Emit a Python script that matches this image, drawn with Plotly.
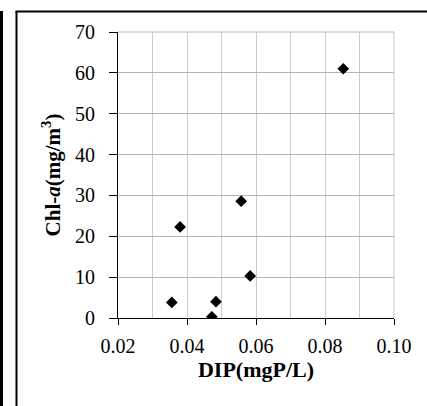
import plotly.graph_objects as go

dip = [0.0853, 0.0557, 0.0380, 0.0583, 0.0356, 0.0484, 0.0472]
chla = [61.0, 28.6, 22.3, 10.3, 3.8, 4.0, 0.3]

x_ticks = [0.02, 0.04, 0.06, 0.08, 0.10]
x_tick_labels = ["0.02", "0.04", "0.06", "0.08", "0.10"]
y_ticks = [0, 10, 20, 30, 40, 50, 60, 70]

FONT = "Liberation Serif, Times New Roman, serif"

fig = go.Figure()
fig.add_trace(go.Scatter(
    x=dip, y=chla, mode="markers",
    marker=dict(symbol="diamond", color="black", size=9),
    showlegend=False,
))

W, H = 427, 406
ml, mr, mt, mb = 118, 33, 32, 88
pw, ph = W - ml - mr, H - mt - mb


def px(x):
    return (x - ml) / pw


def py(y):
    return (H - mb - y) / ph


shapes = [
    dict(type="line", xref="paper", yref="paper", x0=px(1.5), x1=px(1.5), y0=py(11), y1=py(406),
         line=dict(color="black", width=3)),
    dict(type="line", xref="paper", yref="paper", x0=px(16.5), x1=px(16.5), y0=py(11), y1=py(406),
         line=dict(color="black", width=2)),
    dict(type="line", xref="paper", yref="paper", x0=px(15.5), x1=px(427), y0=py(11.5), y1=py(11.5),
         line=dict(color="black", width=2)),
    dict(type="line", xref="paper", yref="paper", x0=1, x1=1, y0=0, y1=1,
         line=dict(color="#c8c8c8", width=1), layer="below"),
    dict(type="line", xref="paper", yref="paper", x0=0, x1=1, y0=1, y1=1,
         line=dict(color="#b4b4b4", width=1), layer="below"),
]

fig.update_layout(
    width=W, height=H,
    margin=dict(l=ml, r=mr, t=mt, b=mb),
    paper_bgcolor="white", plot_bgcolor="white",
    font=dict(family=FONT, color="black", size=20),
    shapes=shapes,
    xaxis=dict(
        range=[0.02, 0.10], tickvals=x_ticks, ticktext=x_tick_labels,
        showline=True, linecolor="black", linewidth=1,
        ticks="outside", ticklen=6, tickcolor="black",
        ticklabelstandoff=4,
        showgrid=True, gridcolor="#cccccc", gridwidth=1,
        minor=dict(dtick=0.01, showgrid=True, gridcolor="#cccccc", ticks=""),
        zeroline=False, mirror=False,
        tickfont=dict(family=FONT, size=20),
        title=dict(text="<b>DIP(mgP/L)</b>", font=dict(family=FONT, size=22), standoff=4),
    ),
    yaxis=dict(
        range=[0, 70], tickvals=y_ticks,
        showline=True, linecolor="black", linewidth=1,
        ticks="outside", ticklen=8, tickcolor="black",
        ticklabelstandoff=10,
        showgrid=True, gridcolor="#b4b4b4", gridwidth=1,
        zeroline=False,
        tickfont=dict(family=FONT, size=20),
        title=dict(text="<b>Chl-<i>a</i>(mg/m<sup>3</sup>)</b>", font=dict(family=FONT, size=21), standoff=8),
    ),
)

fig.write_html("out.html")
